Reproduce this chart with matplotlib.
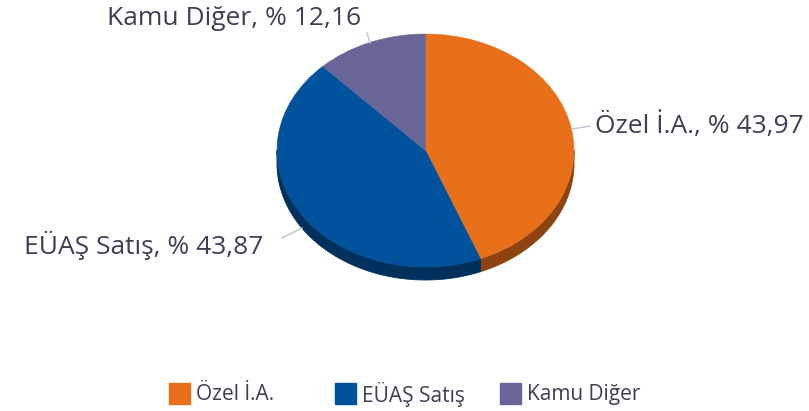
import numpy as np
import matplotlib.pyplot as plt
from matplotlib.patches import Rectangle

# veriler
kategoriler = ['Özel İ.A.', 'EÜAŞ Satış', 'Kamu Diğer']
yuzdeler = [43.97, 43.87, 12.16]
etiketler = ['Özel İ.A., % 43,97', 'EÜAŞ Satış, % 43,87', 'Kamu Diğer, % 12,16']
renkler = ['#E8701A', '#00529C', '#676697']
yan_renkler = ['#8E4410', '#00305C', '#3E3E5E']

W, H = 809, 411
cx, cy = 425.5, 150.5      # piirakan keskipiste (pikseleinä)
rx, ry = 148.5, 116.5      # ellipsin säteet
syvyys = 13 / ry           # sivun paksuus data-yksikköinä
tekstivari = '#3d3f55'
plt.rcParams['font.family'] = ['Open Sans', 'DejaVu Sans']

fig = plt.figure(figsize=(W / 100, H / 100), dpi=100)
ax = fig.add_axes([0, 0, 1, 1])


def px(x, y):
    return (x - cx) / rx, (cy - y) / ry


# kulmat (myötäpäivään ylhäältä, asteina)
osuudet = np.array(yuzdeler) / sum(yuzdeler) * 360
loput = np.cumsum(osuudet)
alut = loput - osuudet

# sivupinta: näkyy vain alapuoliskolla (90..270 astetta ylhäältä myötäpäivään)
for a0, a1, vari in zip(alut, loput, yan_renkler):
    lo, hi = max(a0, 90), min(a1, 270)
    if lo >= hi:
        continue
    t = np.radians(np.linspace(lo, hi, 80))
    x = np.sin(t)
    y = np.cos(t)
    xs = np.concatenate([x, x[::-1]])
    ys = np.concatenate([y, y[::-1] - syvyys])
    ax.fill(xs, ys, color=vari, lw=0.6, ec=vari, zorder=1)

# yläpinta
wedges, _ = ax.pie(yuzdeler, colors=renkler, startangle=90, counterclock=False,
                   radius=1, center=(0, 0), frame=True,
                   wedgeprops=dict(lw=0.4, zorder=2))
for w, vari in zip(wedges, renkler):
    w.set_edgecolor(vari)
ax.set_aspect('auto')
ax.set_xlim(-cx / rx, (W - cx) / rx)
ax.set_ylim(-(H - cy) / ry, cy / ry)
ax.axis('off')

# etiketit ja viivat (pikseleinä)
viivat = [((572, 129), (590, 126)), ((302, 228), (282, 238)), ((370, 43), (367, 33))]
paikat = [(595, 126, 'left'), (263, 245, 'right'), (361, 19, 'right')]
for teksti, (p0, p1), (tx, ty, ha) in zip(etiketler, viivat, paikat):
    x0, y0 = px(*p0)
    x1, y1 = px(*p1)
    ax.plot([x0, x1], [y0, y1], color='#b8c4d6', lw=1, zorder=3)
    lx, ly = px(tx, ty)
    ax.text(lx, ly, teksti, ha=ha, va='center', fontsize=19, color=tekstivari)

# selite alareunaan
for i, (nimi, vari) in enumerate(zip(kategoriler, renkler)):
    x0 = 169 + i * 165.5
    fig.patches.append(Rectangle((x0 / W, 1 - 404 / H), 21 / W, 21 / H,
                                 transform=fig.transFigure, color=vari))
    fig.text((x0 + 27) / W, 1 - 394 / H, nimi, ha='left', va='center',
             fontsize=15, color=tekstivari)

fig.savefig('out.png', dpi=100, facecolor='white')
